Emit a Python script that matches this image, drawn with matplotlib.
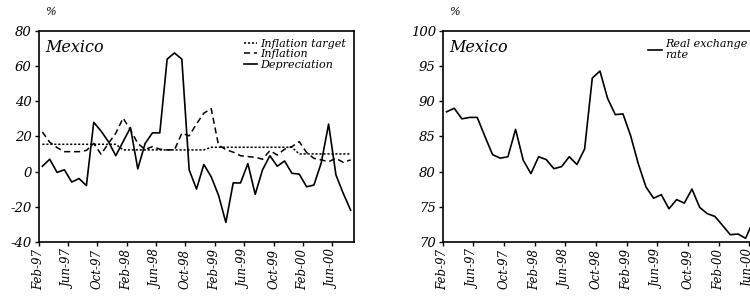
import numpy as np
import matplotlib
matplotlib.use('Agg')
import matplotlib.pyplot as plt

plt.rcParams['font.family'] = 'DejaVu Serif'
plt.rcParams['font.style'] = 'italic'
plt.rcParams['axes.unicode_minus'] = False

# Monthly data, Feb-97 onwards
tick_labels = ['Feb-97', 'Jun-97', 'Oct-97', 'Feb-98', 'Jun-98', 'Oct-98',
               'Feb-99', 'Jun-99', 'Oct-99', 'Feb-00', 'Jun-00']

depreciation = [3, 7, -0.5, 1, -6, -4, -8, 28, 23, 17, 9, 17, 25, 1.5, 16,
                22, 22, 64, 67.5, 64, 1, -10, 4, -3, -13.5, -29, -6.5, -6.5,
                4.5, -13, 1, 9, 3, 6, -1, -1.5, -8.7, -7.7, 5, 27, -2, -12.5,
                -22]
inflation = [22.5, 16.7, 13.6, 11.3, 11.3, 11.3, 12, 16, 9.8, 16, 21.8, 30.4,
             23.7, 16, 12.5, 14.2, 12.7, 12.3, 12.3, 21.8, 20.3, 27.1, 33.2,
             35.8, 15, 12.5, 11, 9, 8.5, 8.1, 7, 11.9, 9.4, 12.7, 14.2, 17,
             10.8, 7.5, 6.6, 5.6, 7.5, 5.2, 6.6]
target = [15.5] * 11 + [12.3] * 12 + [13.8] * 12 + [10] * 8

real_exchange = [88.5, 89.0, 87.5, 87.7, 87.7, 85.0, 82.4, 81.9, 82.1, 86.0,
                 81.6, 79.7, 82.1, 81.7, 80.4, 80.7, 82.1, 81.0, 83.2, 93.3,
                 94.3, 90.4, 88.1, 88.2, 85.1, 81.1, 77.8, 76.2, 76.7, 74.7,
                 76.0, 75.5, 77.5, 74.9, 74.0, 73.6, 72.3, 71.0, 71.1, 70.5,
                 73.0]

n = 43
x = np.arange(n) + 0.5

fig = plt.figure(figsize=(7.5, 2.97), dpi=100)
ax1 = fig.add_axes([0.0516, 0.186, 0.4208, 0.7096])
# right panel runs past the figure edge, as in the original
ax2 = fig.add_axes([0.5903, 0.186, 0.4397, 0.7096])

# Left panel
ax1.plot(x, target, color='black', lw=1.1, linestyle=(0, (1.4, 1.2)), label='Inflation target')
ax1.plot(x, inflation, color='black', lw=1.1, linestyle=(0, (4, 2.5)), label='Inflation')
ax1.plot(x, depreciation, color='black', lw=1.2, label='Depreciation')
ax1.set_ylim(-40, 80)
ax1.set_yticks(np.arange(-40, 81, 20))

# Right panel
ax2.plot(np.arange(len(real_exchange)) + 0.5, real_exchange, color='black', lw=1.2,
         label='Real exchange\nrate')
ax2.set_ylim(70, 100)
ax2.set_yticks(np.arange(70, 101, 5))

for ax in [ax1, ax2]:
    ax.set_xlim(0, n)
    ax.set_xticks(np.arange(0, 41, 4))
    ax.set_xticklabels(tick_labels, rotation=90, fontsize=8.5)
    ax.tick_params(axis='y', labelsize=9.5, length=3, width=1, pad=2)
    ax.tick_params(axis='x', length=3, width=1, pad=2)
    for s in ax.spines.values():
        s.set_linewidth(1.2)
    ax.text(0.02, 0.96, 'Mexico', transform=ax.transAxes, fontsize=11.5,
            va='top', ha='left')
    ax.text(0.02, 1.065, '%', transform=ax.transAxes, fontsize=8, va='bottom')

ax1.legend(loc='upper right', frameon=False, fontsize=8, handlelength=1.2,
           handletextpad=0.3, labelspacing=0.05, borderaxespad=0.3)
ax2.legend(loc='upper left', bbox_to_anchor=(0.6, 1.0), frameon=False, fontsize=8,
           handlelength=1.2, handletextpad=0.3, borderaxespad=0.3)

fig.savefig('out.png', dpi=100)
